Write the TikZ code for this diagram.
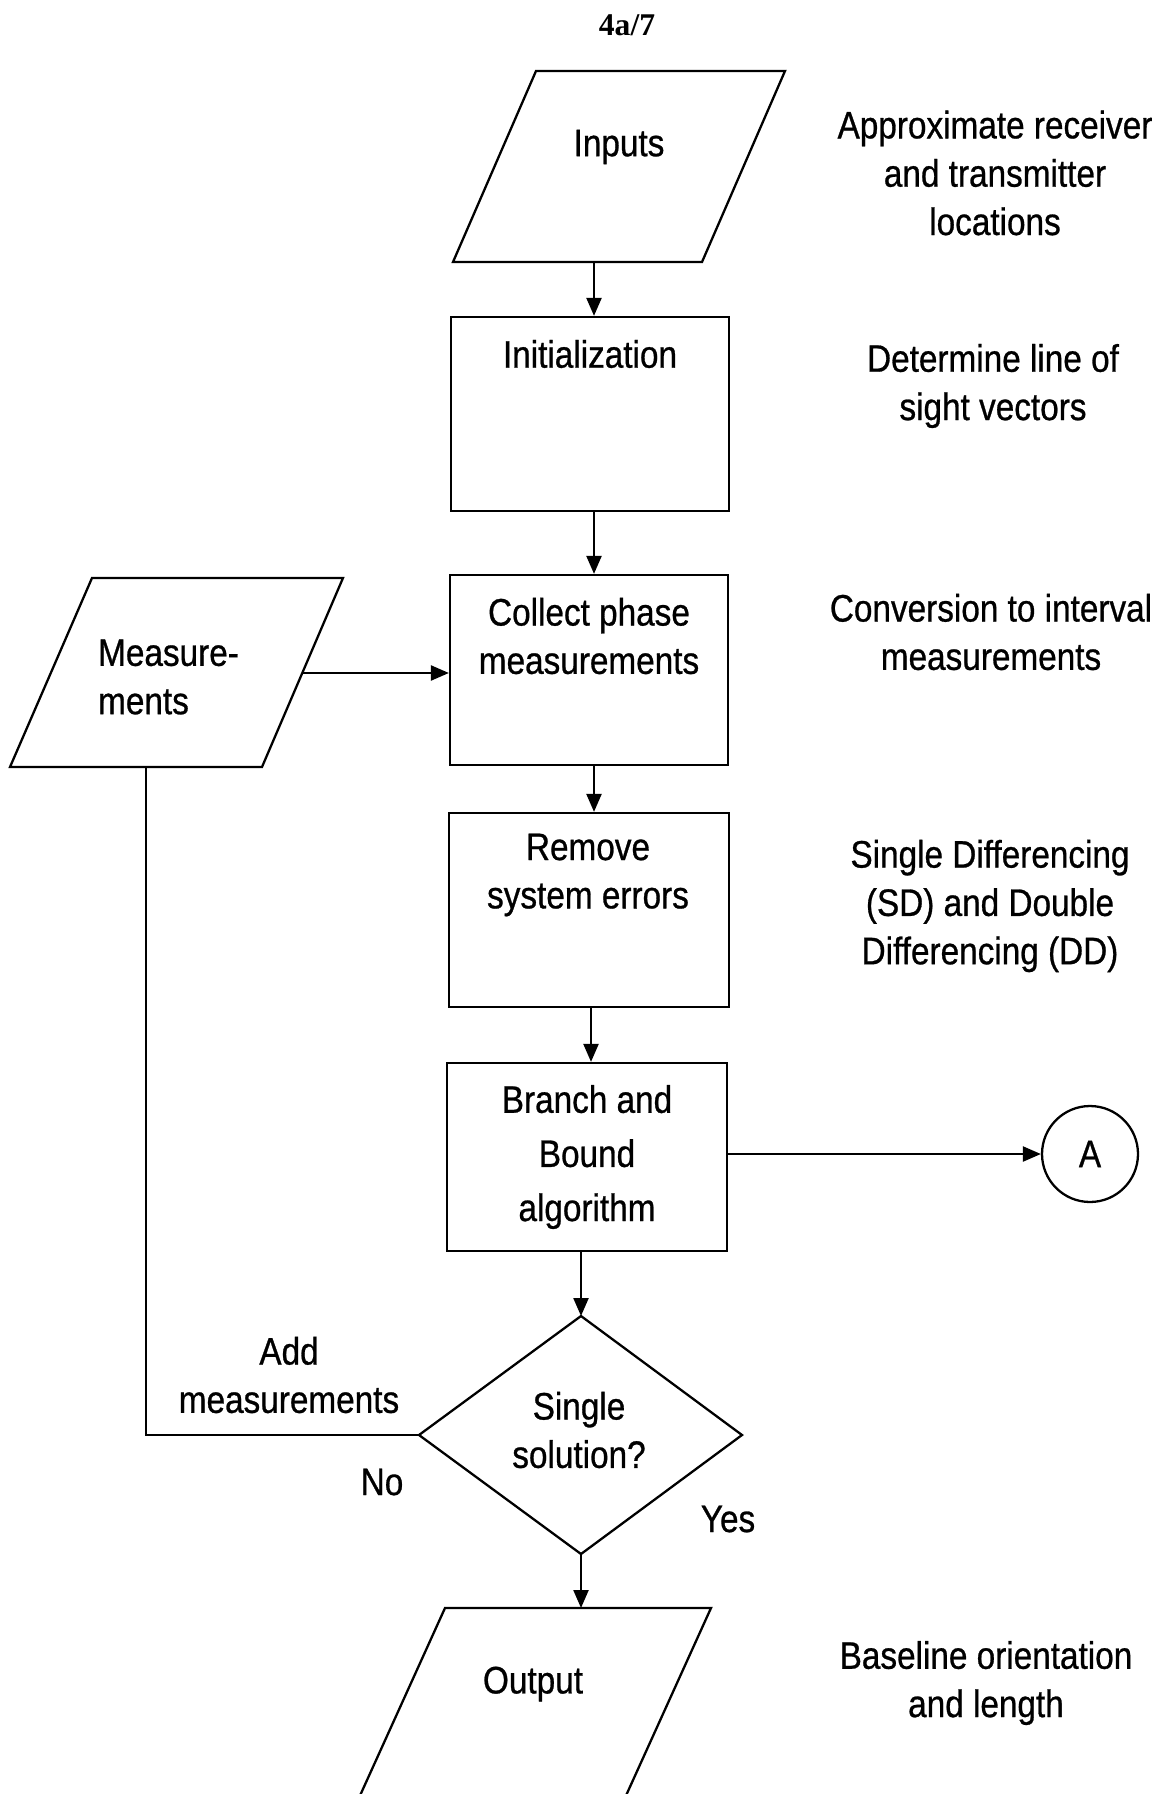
\documentclass[tikz,border=0pt]{standalone}
\usepackage{fontspec}
\setmainfont{Liberation Sans}[FakeStretch=0.87,FakeBold=0.7]
\newfontfamily\titlefont{Liberation Serif}
\usetikzlibrary{arrows.meta}
\begin{document}
\begin{tikzpicture}[x=0.02cm,y=-0.02cm,
  line width=1.3pt,
  every node/.style={font=\fontsize{21.8}{27.5}\selectfont, align=center, inner sep=0pt},
  box/.style={draw, rectangle, line width=1.3pt},
  conn/.style={line width=1.3pt},
  arr/.style={conn, -{Triangle[length=0.36cm,width=0.30cm]}},
  txt/.style={align=center}]
\useasboundingbox (0,0) rectangle (1168,1794);

% title
\node (title) at (627,25) {\titlefont\bfseries\fontsize{18}{20}\selectfont 4a/7};

% Inputs (parallelogram)
\coordinate (inTL) at (536,71);
\coordinate (inTR) at (785,71);
\coordinate (inBR) at (702,262);
\coordinate (inBL) at (453,262);
\draw (inTL) -- (inTR) -- (inBR) -- (inBL) -- cycle;
\node (inputs) at (619,147) {Inputs};
\coordinate (inOut) at (594,262);
\node[txt] (n1) at (995,173) {Approximate receiver\\and transmitter\\locations};

% Initialization
\node[box, minimum width=5.56cm, minimum height=3.88cm] (init) at (590,414) {};
\node (initT) at (590,354) {Initialization};
\node[txt] (n2) at (993,386) {Determine line of\\sight vectors};

% Collect phase measurements
\node[box, minimum width=5.56cm, minimum height=3.80cm] (coll) at (589,670) {};
\node (collT) at (589,636) {Collect phase\\measurements};
\node[txt] (n3) at (991,632) {Conversion to interval\\measurements};

% Measurements (parallelogram)
\coordinate (meTL) at (92,578);
\coordinate (meTR) at (343,578);
\coordinate (meBR) at (262,767);
\coordinate (meBL) at (10,767);
\draw (meTL) -- (meTR) -- (meBR) -- (meBL) -- cycle;
\node[anchor=west, align=left] (meas) at (97,677) {Measure-\\ments};
\coordinate (meOut) at (302,673);
\coordinate (meDown) at (146,767);

% Remove system errors
\node[box, minimum width=5.60cm, minimum height=3.88cm] (rem) at (589,910) {};
\node (remT) at (588,875) {Remove\\system errors};
\node[txt] (n4) at (990,906) {Single Differencing\\(SD) and Double\\Differencing (DD)};
\coordinate (remOut) at (591,1007);

% Branch and Bound
\node[box, minimum width=5.60cm, minimum height=3.76cm] (bb) at (587,1157) {};
\node (bbT) at (587,1157) {Branch and\\[3.3pt]Bound\\[3.3pt]algorithm};

% connector A
\node[draw, circle, minimum size=1.92cm, line width=1.3pt] (A) at (1090,1154) {A};

% Decision diamond
\coordinate (dT) at (581,1316);
\coordinate (dR) at (742,1435);
\coordinate (dB) at (581,1554);
\coordinate (dL) at (419,1435);
\draw (dT) -- (dR) -- (dB) -- (dL) -- cycle;
\node (dec) at (579,1430) {Single\\solution?};
\node (add) at (289,1375) {Add\\measurements};
\node[anchor=base] (no) at (382,1495) {No};
\node[anchor=base] (yes) at (728,1532) {Yes};

% Output (parallelogram, runs off the page)
\coordinate (ouTL) at (445,1608);
\coordinate (ouTR) at (711,1608);
\coordinate (ouBR) at (624,1800);
\coordinate (ouBL) at (358,1800);
\draw (ouBL) -- (ouTL) -- (ouTR) -- (ouBR);
\node (output) at (533,1684) {Output};
\node[txt] (n5) at (986,1683) {Baseline orientation\\and length};

% connectors
\draw[arr] (inOut) -- (inOut |- init.north);
\draw[arr] (init.south -| inOut) -- (coll.north -| inOut);
\draw[arr] (meOut) -- (meOut -| coll.west);
\draw[arr] (coll.south -| inOut) -- (rem.north -| inOut);
\draw[arr] (remOut) -- (remOut |- bb.north);
\draw[arr] (bb.east |- A.west) -- (A.west);
\draw[arr] (bb.south -| dT) -- (dT);
\draw[arr] (dB) -- (dB |- ouTL);
\draw[conn] (meDown) -- (meDown |- dL) -- (dL);
\end{tikzpicture}
\end{document}
